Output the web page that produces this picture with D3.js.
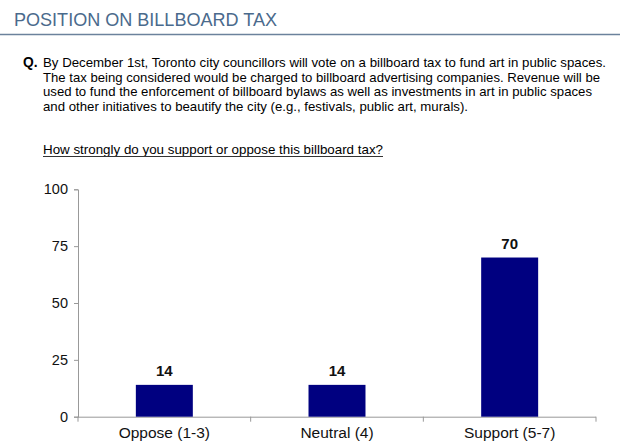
<!DOCTYPE html>
<html lang="en">
<head>
<meta charset="UTF-8">
<title>Position on billboard tax</title>
<script src="https://cdn.jsdelivr.net/npm/d3@7"></script>
<style>
  body { margin: 0; background: #fff; }
  svg { display: block; font-family: "Liberation Sans", Arial, sans-serif; }
</style>
</head>
<body>
<div id="chart"></div>
<script>
  const categories = ["Oppose (1-3)", "Neutral (4)", "Support (5-7)"];
  const values = [14, 14, 70];
  const yTicks = [0, 25, 50, 75, 100];
  const title = "POSITION ON BILLBOARD TAX";
  const questionLines = [
    "By December 1st, Toronto city councillors will vote on a billboard tax to fund art in public spaces.",
    "The tax being considered would be charged to billboard advertising companies. Revenue will be",
    "used to fund the enforcement of billboard bylaws as well as investments in art in public spaces",
    "and other initiatives to beautify the city (e.g., festivals, public art, murals)."
  ];
  const questionWidths = [563, 557, 549, 425];
  const subQuestion = "How strongly do you support or oppose this billboard tax?";

  const W = 620, H = 445;
  const svg = d3.select("#chart").append("svg").attr("width", W).attr("height", H);

  // header
  svg.append("text").attr("x", 14).attr("y", 26)
    .attr("font-size", 17.5).attr("fill", "#4a6a8c")
    .attr("textLength", 263).attr("lengthAdjust", "spacingAndGlyphs")
    .text(title);
  svg.append("line").attr("x1", 0).attr("x2", W).attr("y1", 34.5).attr("y2", 34.5)
    .attr("stroke", "#6b829c").attr("stroke-width", 1.5);

  // question
  svg.append("text").attr("x", 23).attr("y", 66.7)
    .attr("font-size", 13.8).attr("font-weight", "bold").attr("fill", "#000").text("Q.");
  svg.selectAll("text.q").data(questionLines).enter().append("text")
    .attr("class", "q")
    .attr("x", 43)
    .attr("y", (d, i) => 66.7 + i * 14.8)
    .attr("font-size", 13.5)
    .attr("fill", "#000")
    .attr("textLength", (d, i) => questionWidths[i])
    .attr("lengthAdjust", "spacingAndGlyphs")
    .text(d => d);
  svg.append("text").attr("x", 43).attr("y", 154)
    .attr("font-size", 13.5).attr("fill", "#000")
    .attr("textLength", 340).attr("lengthAdjust", "spacingAndGlyphs")
    .text(subQuestion);
  svg.append("line").attr("x1", 43).attr("x2", 383).attr("y1", 156.5).attr("y2", 156.5)
    .attr("stroke", "#333").attr("stroke-width", 1);

  // chart
  const plotLeft = 78, plotRight = 596, plotTop = 189.3, plotBottom = 416.7;
  const x = d3.scaleBand().domain(categories).range([plotLeft, plotRight])
    .paddingInner(0.67).paddingOuter(0.335);
  const y = d3.scaleLinear().domain([0, 100]).range([plotBottom, plotTop]);

  const yAxis = svg.append("g").attr("transform", `translate(${plotLeft},0)`)
    .call(d3.axisLeft(y).tickValues(yTicks).tickSize(4).tickPadding(6));
  yAxis.select(".domain").attr("stroke", "#999");
  yAxis.selectAll(".tick line").attr("stroke", "#999");
  yAxis.selectAll(".tick text").attr("font-size", 14.5).attr("fill", "#111")
    .attr("font-family", "Liberation Sans, Arial, sans-serif");

  // x axis: line plus ticks at band boundaries
  const step = x.step();
  const bounds = d3.range(categories.length + 1).map(i => plotLeft + i * step);
  svg.append("line").attr("x1", plotLeft).attr("x2", plotRight)
    .attr("y1", plotBottom + 0.5).attr("y2", plotBottom + 0.5).attr("stroke", "#999");
  svg.selectAll("line.xt").data(bounds).enter().append("line")
    .attr("class", "xt")
    .attr("x1", d => d).attr("x2", d => d)
    .attr("y1", plotBottom).attr("y2", plotBottom + 5).attr("stroke", "#999");
  svg.selectAll("text.cat").data(categories).enter().append("text")
    .attr("class", "cat")
    .attr("x", d => x(d) + x.bandwidth() / 2)
    .attr("y", plotBottom + 21)
    .attr("text-anchor", "middle")
    .attr("font-size", 15.5).attr("fill", "#111")
    .text(d => d);

  svg.selectAll("rect.bar").data(values).enter().append("rect")
    .attr("class", "bar")
    .attr("x", (d, i) => x(categories[i]))
    .attr("y", d => y(d))
    .attr("width", x.bandwidth())
    .attr("height", d => plotBottom - y(d))
    .attr("fill", "#000080");

  svg.selectAll("text.val").data(values).enter().append("text")
    .attr("class", "val")
    .attr("x", (d, i) => x(categories[i]) + x.bandwidth() / 2)
    .attr("y", d => y(d) - 9)
    .attr("text-anchor", "middle")
    .attr("font-size", 15).attr("font-weight", "bold").attr("fill", "#111")
    .text(d => d);
</script>
</body>
</html>
